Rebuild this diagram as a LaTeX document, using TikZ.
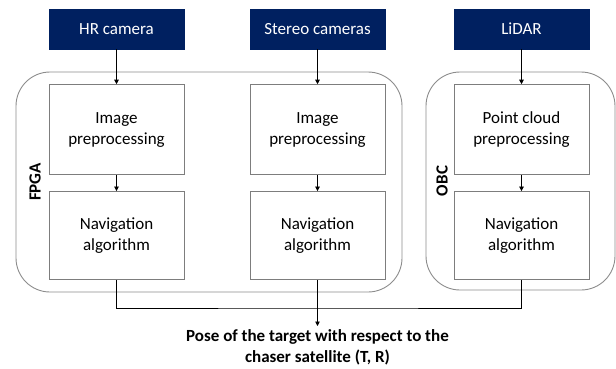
\documentclass[tikz,border=0pt]{standalone}
\usepackage{fontspec}
\setmainfont{Carlito}
\usepackage{xcolor}
\usetikzlibrary{arrows.meta,positioning}

\definecolor{navy}{RGB}{0,32,96}
\definecolor{boxgray}{RGB}{125,125,125}
\definecolor{unitgray}{RGB}{140,140,140}
\newcommand{\diagfont}{\fontsize{17}{21}\selectfont}

\begin{document}
\begin{tikzpicture}[x=1pt,y=-1pt,
    sensor/.style={fill=navy, draw=navy, text=white, font=\diagfont,
      minimum width=135pt, minimum height=40pt, inner sep=0pt},
    block/.style={draw=boxgray, line width=0.9pt, font=\diagfont, align=center,
      minimum width=135pt, minimum height=90pt, inner sep=0pt},
    unit/.style={draw=unitgray, line width=0.9pt, rounded corners=34pt},
    link/.style={line width=0.7pt, -{Triangle[width=4.5pt,length=4.5pt]}}]
    \useasboundingbox (0,0) rectangle (616,368);

    % sensors
    \node[sensor] (hr) at (116.5,29) {HR camera};
    \node[sensor] (stereo) at (317.5,29) {Stereo cameras};
    \node[sensor] (lidar) at (521.5,29) {LiDAR};

    % processing units
    \draw[unit] (16,72) rectangle (402,292);
    \draw[unit] (426,72) rectangle (615,290);
    \node[rotate=90, font=\diagfont\bfseries] (fpga) at (35,182) {FPGA};
    \node[rotate=90, font=\diagfont\bfseries] (obc) at (442,181) {OBC};

    % blocks
    \node[block, below=35pt of hr] (hrpre) {Image\\preprocessing};
    \node[block, below=16pt of hrpre, minimum height=88pt] (hrnav) {Navigation\\algorithm};
    \node[block, below=35pt of stereo] (stereopre) {Image\\preprocessing};
    \node[block, below=16pt of stereopre, minimum height=88pt] (stereonav) {Navigation\\algorithm};
    \node[block, below=35pt of lidar] (lidarpre) {Point cloud\\preprocessing};
    \node[block, below=16pt of lidarpre, minimum height=88pt] (lidarnav) {Navigation\\algorithm};

    % output
    \coordinate (merge) at (317.5,308);
    \node[font=\diagfont\bfseries, align=center, anchor=north, inner sep=3.5pt] (pose) at (317.5,326)
      {Pose of the target with respect to the\\chaser satellite (T, R)};

    \draw[link] (hr) -- (hrpre);
    \draw[link] (stereo) -- (stereopre);
    \draw[link] (lidar) -- (lidarpre);
    \draw[link] (hrpre) -- (hrnav);
    \draw[link] (stereopre) -- (stereonav);
    \draw[link] (lidarpre) -- (lidarnav);
    \draw[line width=0.7pt] (hrnav) |- (merge) -| (lidarnav);
    \draw[link] (stereonav) -- (pose);
\end{tikzpicture}
\end{document}
